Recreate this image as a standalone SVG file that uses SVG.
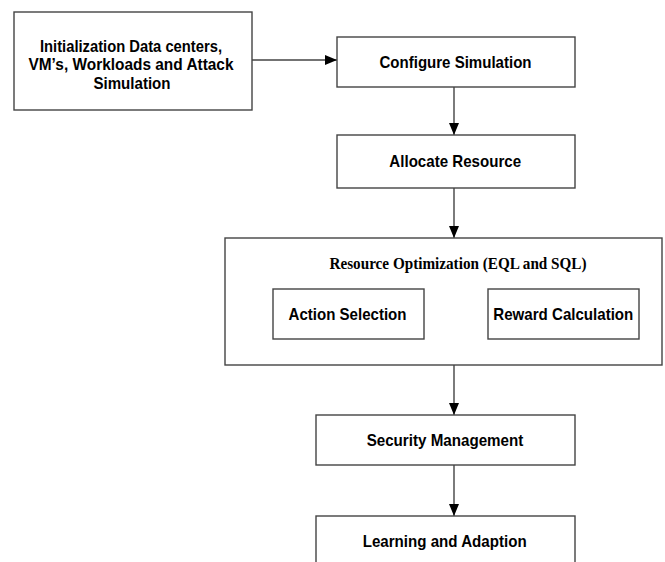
<svg xmlns="http://www.w3.org/2000/svg" width="665" height="562" viewBox="0 0 665 562">
<style>
.box{fill:#fff;stroke:#444;stroke-width:1.4}
.t{font-family:"Liberation Sans",Arial,sans-serif;font-weight:bold;font-size:17px;fill:#000;text-anchor:middle}
.ts{font-family:"Liberation Serif","Times New Roman",serif;font-weight:bold;font-size:17px;fill:#000;text-anchor:middle}
.c{stroke:#444;stroke-width:1.4;fill:none;marker-end:url(#ah)}
</style>
<defs>
<marker id="ah" markerWidth="12" markerHeight="10" refX="12" refY="5" orient="auto" markerUnits="userSpaceOnUse">
<path d="M0,0 L12,5 L0,10 Z" fill="#000"/>
</marker>
</defs>
<rect width="665" height="562" fill="#fff"/>
<g id="connectors">
<line class="c" x1="252" y1="60" x2="337" y2="60"/>
<line class="c" x1="454" y1="87" x2="454" y2="135"/>
<line class="c" x1="454" y1="188" x2="454" y2="238"/>
<line class="c" x1="454" y1="365" x2="454" y2="415"/>
<line class="c" x1="454" y1="465" x2="454" y2="516"/>
</g>
<g id="init">
<rect class="box" x="14" y="12" width="238" height="98"/>
<text class="t" x="131" y="51.5" textLength="182" lengthAdjust="spacingAndGlyphs">Initialization Data centers,</text>
<text class="t" x="131" y="70" textLength="205" lengthAdjust="spacingAndGlyphs">VM’s, Workloads and Attack</text>
<text class="t" x="132" y="88.5" textLength="77" lengthAdjust="spacingAndGlyphs">Simulation</text>
</g>
<g id="configure">
<rect class="box" x="337" y="37" width="238" height="50"/>
<text class="t" x="455.5" y="67.5" textLength="152" lengthAdjust="spacingAndGlyphs">Configure Simulation</text>
</g>
<g id="allocate">
<rect class="box" x="337" y="135" width="238" height="53"/>
<text class="t" x="455.2" y="166.5" textLength="131.7" lengthAdjust="spacingAndGlyphs">Allocate Resource</text>
</g>
<g id="optimization">
<rect class="box" x="225" y="238" width="437" height="127"/>
<text class="ts" x="458" y="269" textLength="257" lengthAdjust="spacingAndGlyphs">Resource Optimization (EQL and SQL)</text>
</g>
<g id="action">
<rect class="box" x="273" y="289" width="151" height="50"/>
<text class="t" x="347.5" y="320" textLength="118" lengthAdjust="spacingAndGlyphs">Action Selection</text>
</g>
<g id="reward">
<rect class="box" x="488" y="289" width="151" height="50"/>
<text class="t" x="563.3" y="320" textLength="140" lengthAdjust="spacingAndGlyphs">Reward Calculation</text>
</g>
<g id="security">
<rect class="box" x="316" y="415" width="259" height="50"/>
<text class="t" x="445" y="446" textLength="156.7" lengthAdjust="spacingAndGlyphs">Security Management</text>
</g>
<g id="learning">
<rect class="box" x="316" y="516" width="259" height="60"/>
<text class="t" x="444.7" y="546.5" textLength="164" lengthAdjust="spacingAndGlyphs">Learning and Adaption</text>
</g>
</svg>
